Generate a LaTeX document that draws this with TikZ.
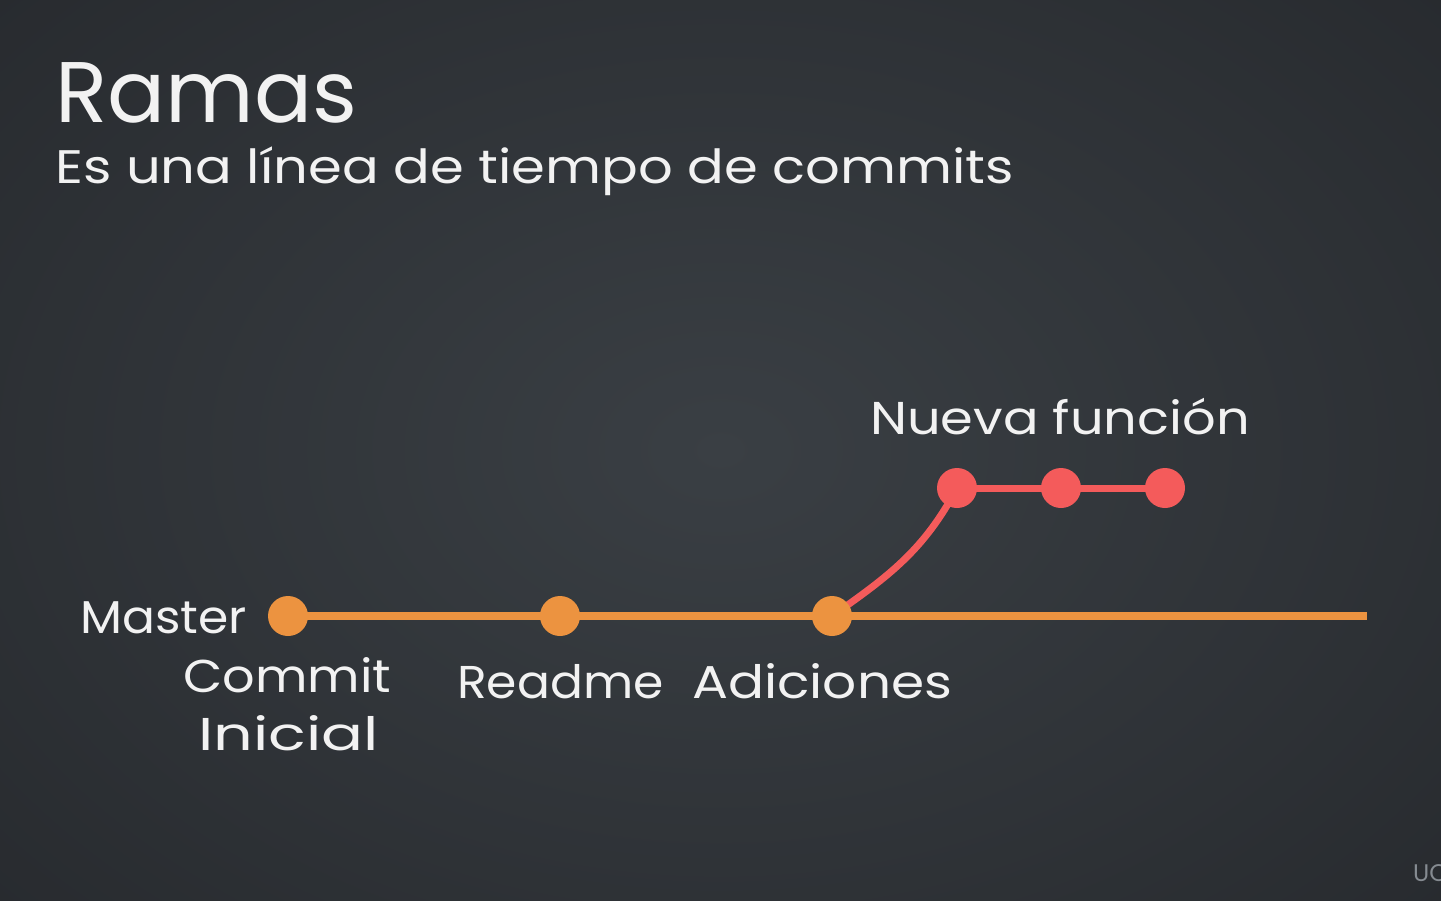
\documentclass[tikz,border=0pt]{standalone}
\usepackage{fontspec}
\setmainfont{Poppins}
\usetikzlibrary{calc}
\pgfdeclarelayer{bg}
\pgfdeclarelayer{lines}
\pgfsetlayers{bg,lines,main}
\definecolor{board}{HTML}{3A3F44}
\definecolor{boardedge}{HTML}{26292D}
\definecolor{chalk}{HTML}{F2F2F2}
\definecolor{master}{HTML}{EC9340}
\definecolor{feature}{HTML}{F45B5B}
\definecolor{mark}{HTML}{858B91}
\newcommand{\sx}[2]{\scalebox{#1}[1]{#2}}
\tikzset{
  chalktext/.style={text=chalk, inner sep=0pt, anchor=base west},
  commitdot/.style={circle, inner sep=0pt, minimum size=40pt},
  masterdot/.style={commitdot, fill=master},
  featuredot/.style={commitdot, fill=feature},
  masterline/.style={draw=master, line width=8pt},
  featureline/.style={draw=feature, line width=7pt},
}
\begin{document}
\begin{tikzpicture}[x=1pt,y=-1pt]
\useasboundingbox (0,0) rectangle (1441,900);
\begin{pgfonlayer}{bg}
  \shade[inner color=board, outer color=boardedge] (-350,-300) rectangle (1791,1200);
\end{pgfonlayer}
% titles
\node[chalktext, font=\fontsize{86}{90}\selectfont] (title) at (55,122) {Ramas};
\node[chalktext, font=\fontsize{47}{50}\selectfont] (subtitle) at (55,183) {\sx{1.157}{Es una línea de tiempo de commits}};
% commits
\node[masterdot] (c1) at (288,616) {};
\node[masterdot] (c2) at (560,616) {};
\node[masterdot] (c3) at (832,616) {};
\coordinate (mend) at (1367,616);
\node[featuredot] (f1) at (957,488) {};
\node[featuredot] (f2) at (1061,488) {};
\node[featuredot] (f3) at (1165,488) {};
\begin{pgfonlayer}{lines}
  \draw[masterline] (c1.center) -- (c2.center) -- (c3.center) -- (mend);
  \draw[featureline] (c3.center) to[out=35,in=-118] (f1.center);
  \draw[featureline] (f1.center) -- (f2.center) -- (f3.center);
\end{pgfonlayer}
% labels
\node[chalktext, font=\fontsize{46}{50}\selectfont] (lmaster) at (80,633) {\sx{1.06}{Master}};
\node[chalktext, font=\fontsize{46}{50}\selectfont] (lc1a) at (183,692) {\sx{1.107}{Commit}};
\node[chalktext, font=\fontsize{46}{50}\selectfont] (lc1b) at (198,750) {\sx{1.35}{Inicial}};
\node[chalktext, font=\fontsize{46}{50}\selectfont] (lc2) at (457,698) {\sx{1.06}{Readme}};
\node[chalktext, font=\fontsize{46}{50}\selectfont] (lc3) at (692,698) {\sx{1.16}{Adiciones}};
\node[chalktext, font=\fontsize{46}{50}\selectfont] (lfeat) at (870,434) {\sx{1.145}{Nueva función}};
% watermark
\begin{scope}
  \clip (0,0) rectangle (1441,900);
  \node[text=mark, inner sep=0pt, anchor=base west, font=\fontsize{24}{26}\selectfont] (wm) at (1413,881) {UC};
\end{scope}
\end{tikzpicture}
\end{document}
